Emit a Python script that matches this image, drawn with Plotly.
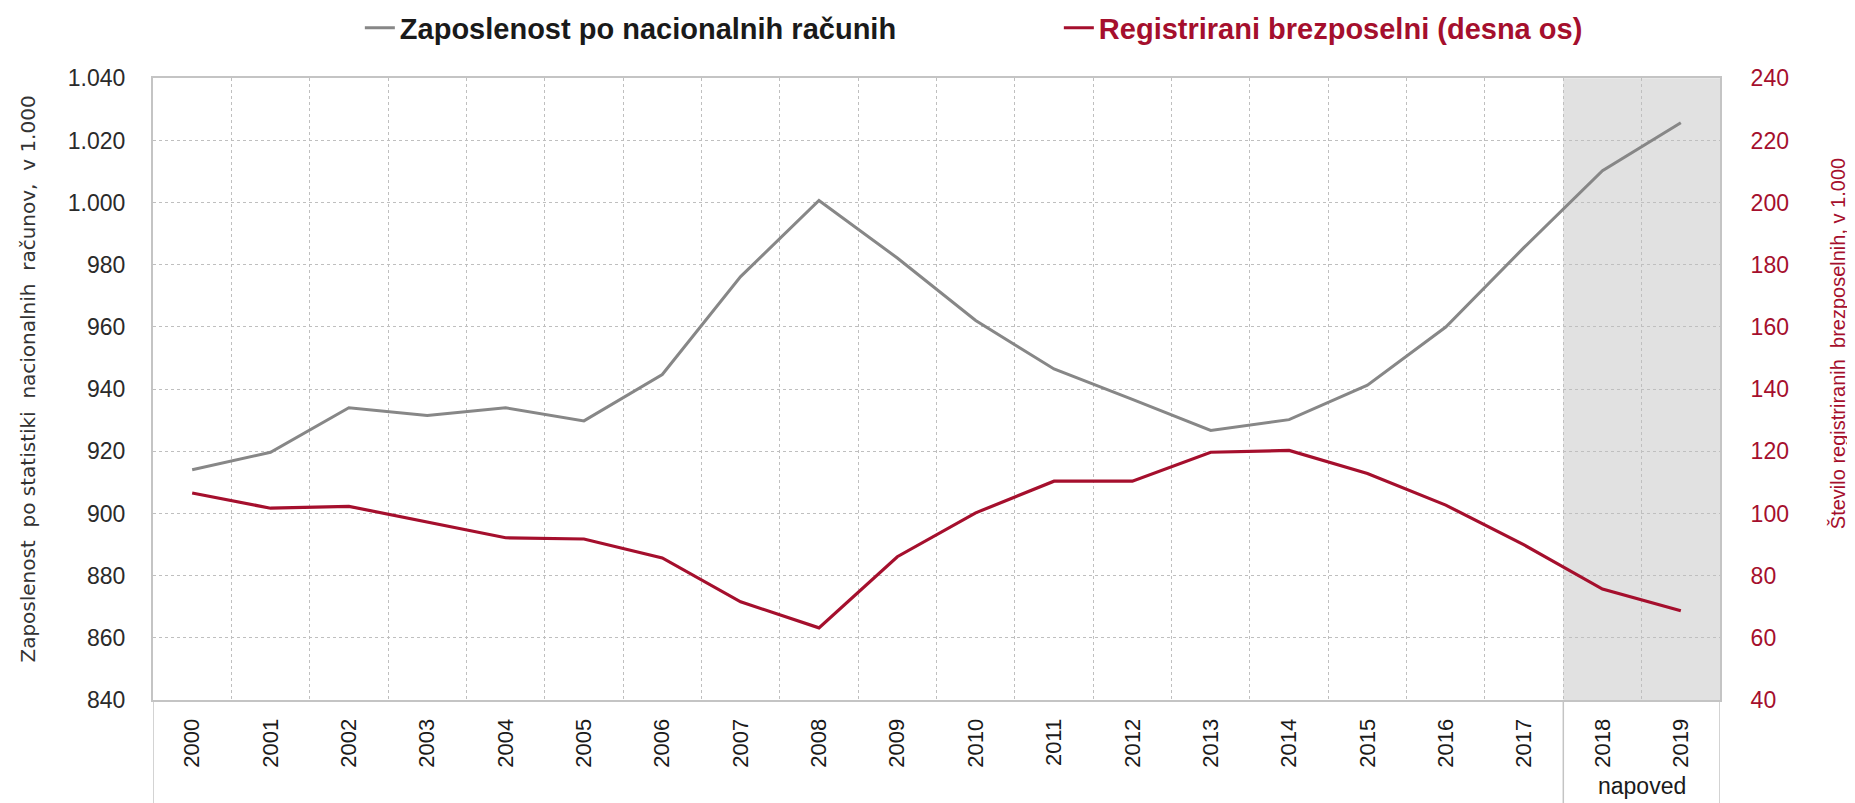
import plotly.graph_objects as go

years = ["2000", "2001", "2002", "2003", "2004", "2005", "2006", "2007", "2008", "2009",
         "2010", "2011", "2012", "2013", "2014", "2015", "2016", "2017", "2018", "2019"]
employment = [914.1, 919.7, 934.0, 931.5, 934.0, 929.8, 944.7, 976.2, 1000.7, 982.2,
              962.1, 946.5, 936.7, 926.7, 930.2, 941.3, 960.0, 985.6, 1010.3, 1025.7]
unemployed = [106.6, 101.7, 102.3, 97.2, 92.2, 91.8, 85.7, 71.6, 63.2, 86.1,
              100.2, 110.4, 110.4, 119.7, 120.3, 112.9, 102.7, 89.9, 75.7, 68.7]
forecast_start = "2018"
forecast_label = "napoved"
left_ticks = [840, 860, 880, 900, 920, 940, 960, 980, 1000, 1020, 1040]
right_ticks = [40, 60, 80, 100, 120, 140, 160, 180, 200, 220, 240]

GRAY = "#878787"
RED = "#A50F2D"
GRID = "#BFBFBF"
SANS = "Liberation Sans, Arial, sans-serif"

fig = go.Figure()
fig.add_trace(go.Scatter(
    x=years, y=employment, mode="lines", name="<b>Zaposlenost po nacionalnih računih</b>",
    line=dict(color=GRAY, width=3), yaxis="y"))
fig.add_trace(go.Scatter(
    x=years, y=unemployed, mode="lines",
    name="<b><span style='color:%s'>Registrirani brezposelni (desna os)</span></b>" % RED,
    line=dict(color=RED, width=3.2), yaxis="y2"))

n = len(years)
fs = years.index(forecast_start)

shapes = [
    dict(type="rect", xref="x", yref="y domain", x0=fs - 0.5, x1=n - 0.5, y0=0, y1=1,
         fillcolor="#E1E1E1", line=dict(width=0), layer="below"),
]
for xb in [-0.5, fs - 0.5, n - 0.5]:
    shapes.append(dict(type="line", xref="x", yref="paper", x0=xb, x1=xb, y0=0, y1=-0.2,
                       line=dict(color="#C4C4C4", width=1.5), layer="above"))

# the page body adds an 8px offset, so the figure is drawn 8px smaller
fig.update_layout(
    width=1847, height=795,
    margin=dict(l=145, r=135, t=65, b=103),
    paper_bgcolor="white", plot_bgcolor="white",
    separators=",.",
    showlegend=True,
    legend=dict(orientation="h", xref="paper", x=0.132, xanchor="left",
                yref="container", y=0.975, yanchor="middle",
                entrywidth=654, entrywidthmode="pixels",
                font=dict(family=SANS, size=29, color="#1a1a1a"),
                bgcolor="rgba(0,0,0,0)", itemclick=False, itemdoubleclick=False),
    xaxis=dict(type="category", range=[-0.5, n - 0.5], tickson="boundaries",
               showgrid=True, gridcolor=GRID, griddash="dot", gridwidth=1,
               showline=True, linecolor="#C4C4C4", linewidth=2, mirror=True,
               ticks="", tickangle=-90, ticklabelstandoff=8,
               tickfont=dict(family=SANS, size=22, color="#1a1a1a"),
               zeroline=False),
    yaxis=dict(range=[840, 1040], tickvals=left_ticks, tickformat=",d",
               showgrid=True, gridcolor=GRID, griddash="dot", gridwidth=1,
               showline=True, linecolor="#C4C4C4", linewidth=2, ticks="",
               ticklabelstandoff=21,
               tickfont=dict(family=SANS, size=23, color="#2a2a2a"), zeroline=False),
    yaxis2=dict(range=[40, 240], tickvals=right_ticks, overlaying="y", side="right",
                showgrid=False, showline=True, linecolor="#C4C4C4", linewidth=2, ticks="",
                ticklabelstandoff=24,
                tickfont=dict(family=SANS, size=23, color=RED),
                zeroline=False),
    shapes=shapes,
    annotations=[
        dict(text="Zaposlenost  po statistiki  nacionalnih  računov,  v 1.000",
             xref="paper", yref="paper", x=-0.0798, y=0.517, textangle=-90,
             showarrow=False, xanchor="center", yanchor="middle",
             font=dict(family="DejaVu Sans, Verdana, sans-serif", size=20, color="#333333")),
        dict(text="Število registriranih  brezposelnih, v 1.000",
             xref="paper", yref="paper", x=1.0753, y=0.574, textangle=-90,
             showarrow=False, xanchor="center", yanchor="middle",
             font=dict(family=SANS, size=20, color=RED)),
        dict(text=forecast_label, xref="x", yref="paper", x=(fs - 0.5 + n - 0.5) / 2, y=-0.139,
             showarrow=False, xanchor="center", yanchor="middle",
             font=dict(family=SANS, size=23, color="#1a1a1a")),
    ],
)

fig.write_html("out.html")
